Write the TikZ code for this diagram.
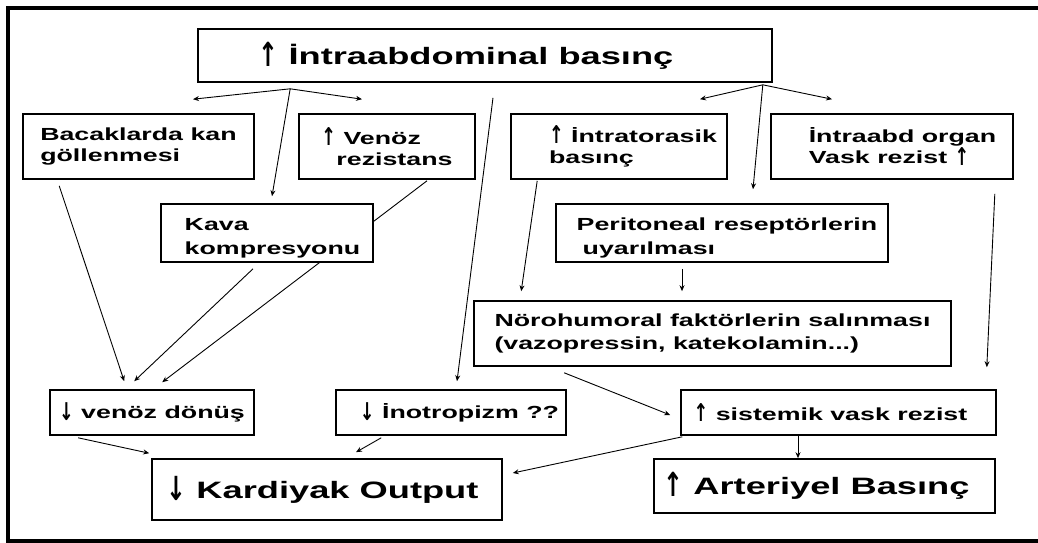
\documentclass[tikz,border=0pt]{standalone}
\usepackage{fontspec}
\setmainfont{Liberation Sans}[FakeStretch=1.53]
\newfontfamily\arrowfont{DejaVu Sans}
\usetikzlibrary{arrows.meta}
\newcommand\upar{\raisebox{-0.08em}{\scalebox{1}[1.4]{\arrowfont\bfseries ↑}}}
\newcommand\dnar{\raisebox{-0.08em}{\scalebox{1}[1.4]{\arrowfont\bfseries ↓}}}

\begin{document}
\begin{tikzpicture}[x=1pt,y=-1pt,
  box/.style={draw,fill=white,line width=1.6pt,inner sep=0pt,align=left,
    font=\bfseries\fontsize{17.5}{21}\selectfont},
  bigbox/.style={box,font=\bfseries\fontsize{23.7}{28}\selectfont},
  link/.style={line width=0.9pt,-{Stealth[length=6pt,width=5pt]}}]
\path[use as bounding box,clip] (0,0) rectangle (1038,542);
\draw[line width=4pt] (1050,7.5) -- (7.5,7.5) -- (7.5,541) -- (1050,541);
% top row
\node[bigbox,minimum width=574pt,minimum height=53pt] (top) at (485,55.5) {\upar\ İntraabdominal basınç\hspace*{38pt}};
\node[box,minimum width=231pt,minimum height=65pt] (bacak) at (138.5,146.5) {Bacaklarda kan\\göllenmesi};
\node[box,minimum width=176pt,minimum height=65pt] (venoz) at (387,146.5) {\upar\ Venöz\\\hspace*{15pt}rezistans};
\node[box,minimum width=216pt,minimum height=65pt] (intrator) at (619,146.5) {\hspace*{28pt}\upar\ İntratorasik\\\hspace*{28pt}basınç};
\node[box,minimum width=242pt,minimum height=65pt] (organ) at (892,146.5) {\hspace*{21pt}İntraabd organ\\\hspace*{21pt}Vask rezist \upar};
% lower rows
\node[box,minimum width=204pt,minimum height=45pt] (donus) at (152,412.5) {\dnar\ venöz dönüş};
\draw[link] ([xshift=40pt,yshift=-1pt]venoz.south) -- ([xshift=113pt,yshift=7pt]donus.north west);
\node[box,minimum width=212pt,minimum height=58pt] (kava) at (267,233) {\rule{0pt}{22pt}\hspace*{11pt}Kava\\[3pt]\hspace*{11pt}kompresyonu};
\node[box,minimum width=332pt,minimum height=58pt] (perit) at (722,233) {\rule{0pt}{22pt}\hspace*{10pt}Peritoneal reseptörlerin\\[3pt]\hspace*{16pt}uyarılması};
\node[box,minimum width=477pt,minimum height=65pt] (noro) at (712.5,333.5) {Nörohumoral faktörlerin salınması\\[1.5pt](vazopressin, katekolamin...)};
\node[box,minimum width=230pt,minimum height=45pt] (inotrop) at (451,412.5) {\hspace*{17pt}\dnar\ İnotropizm ??};
\node[box,minimum width=315pt,minimum height=45pt] (sistem) at (838.5,412.5) {\upar\ sistemik vask rezist\hspace*{16pt}};
\node[bigbox,minimum width=350pt,minimum height=61pt] (kardiyak) at (327,489.5) {\dnar\ Kardiyak Output\hspace*{9pt}};
\node[bigbox,minimum width=341pt,minimum height=54pt] (arter) at (824.5,486) {\upar\ Arteriyel Basınç\hspace*{16pt}};
% split points under the top box
\coordinate (tl) at ([xshift=93pt,yshift=-6pt]top.south west);
\coordinate (tr) at ([xshift=-10pt,yshift=-2pt]top.south east);
\draw[link] (tl) -- ([xshift=54.5pt,yshift=14pt]bacak.north);
\draw[link] (tl) -- ([xshift=-25pt,yshift=14pt]venoz.north);
\draw[link] (tl) -- ([xshift=5pt,yshift=7pt]kava.north);
\draw[link] (tr) -- ([xshift=81pt,yshift=14pt]intrator.north);
\draw[link] (tr) -- ([xshift=-60pt,yshift=14pt]organ.north);
\draw[link] (tr) -- ([xshift=31pt,yshift=14pt]perit.north);
\draw[link] ([xshift=8pt,yshift=-15pt]top.south) -- ([xshift=6pt,yshift=8pt]inotrop.north);
% venous return
\draw[link] ([xshift=37pt,yshift=-6pt]bacak.south west) -- ([xshift=75pt,yshift=8pt]donus.north west);
\draw[link] ([xshift=-14pt,yshift=-6pt]kava.south) -- ([xshift=85pt,yshift=8pt]donus.north west);
% right side
\draw[link] ([xshift=27pt,yshift=-1pt]intrator.south west) -- ([xshift=48pt,yshift=9pt]noro.north west);
\draw[link] ([xshift=-40pt,yshift=-6pt]perit.south) -- ([xshift=-30.5pt,yshift=9pt]noro.north);
\draw[link] ([xshift=-19pt,yshift=-14pt]organ.south east) -- ([xshift=-10pt,yshift=22pt]sistem.north east);
\draw[link] ([xshift=91pt,yshift=-6pt]noro.south west) -- ([xshift=-10pt,yshift=-2.5pt]sistem.west);
\draw[link] ([xshift=-40.5pt]sistem.south) -- ([xshift=-26.5pt]arter.north);
% to cardiac output
\draw[link] ([xshift=2pt,yshift=-1pt]sistem.south west) -- ([xshift=10pt,yshift=16.5pt]kardiyak.east);
\draw[link] ([xshift=29pt,yshift=-2pt]donus.south west) -- ([xshift=-2pt,yshift=5pt]kardiyak.north west);
\draw[link] ([xshift=46pt,yshift=-2pt]inotrop.south west) -- ([xshift=29pt,yshift=6pt]kardiyak.north);
\end{tikzpicture}
\end{document}
